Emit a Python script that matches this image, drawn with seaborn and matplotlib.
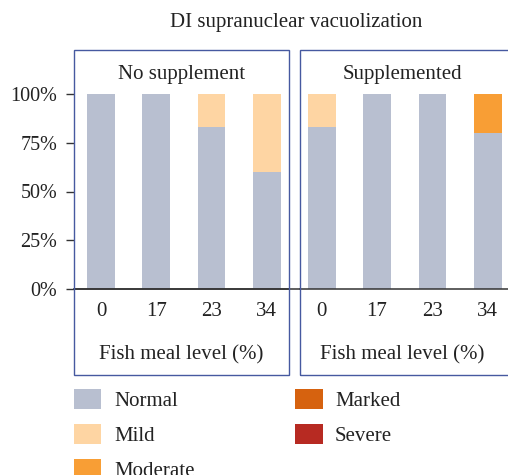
import numpy as np
import pandas as pd
import matplotlib
matplotlib.use("Agg")
import matplotlib.pyplot as plt
from matplotlib.patches import Patch, Rectangle
import seaborn as sns

# Data (percent of fish per severity class)
levels = ['0', '17', '23', '34']
severity = ['Normal', 'Mild', 'Moderate', 'Marked', 'Severe']
palette = ['#B8BFD0', '#FED5A3', '#F89E35', '#D6620F', '#B72A22']

no_supp_normal = [100, 100, 83.3, 60]
no_supp_mild = [0, 0, 16.7, 40]
no_supp_moderate = [0, 0, 0, 0]
no_supp_marked = [0, 0, 0, 0]
no_supp_severe = [0, 0, 0, 0]

supp_normal = [83.3, 100, 100, 80]
supp_mild = [16.7, 0, 0, 0]
supp_moderate = [0, 0, 0, 20]
supp_marked = [0, 0, 0, 0]
supp_severe = [0, 0, 0, 0]

panels = ['No supplement', 'Supplemented']
values = {
    'No supplement': [no_supp_normal, no_supp_mild, no_supp_moderate,
                      no_supp_marked, no_supp_severe],
    'Supplemented': [supp_normal, supp_mild, supp_moderate,
                     supp_marked, supp_severe],
}

rows = []
for panel in panels:
    for sev, vals in zip(severity, values[panel]):
        for lvl, v in zip(levels, vals):
            rows.append({'panel': panel, 'severity': sev, 'level': lvl, 'pct': v})
df = pd.DataFrame(rows)
df['severity'] = pd.Categorical(df['severity'], severity, ordered=True)
df = df.sort_values(['panel', 'level', 'severity'])
df['cum'] = df.groupby(['panel', 'level'])['pct'].cumsum()

sns.set_style("white")
plt.rcParams['font.family'] = ['Liberation Serif', 'DejaVu Serif']
fs = 15
text_col = '#222222'
box_col = '#4659A0'

W, H = 508, 475
fig = plt.figure(figsize=(W / 100, H / 100), dpi=100)

# pixel layout
box_top, box_bot = 50, 375
y0_px, y100_px = 289, 94
ppu = (y0_px - y100_px) / 100.0
ytop = (y0_px - box_top) / ppu

specs = [
    ('No supplement', 74, 289, 101, 55.3),
    ('Supplemented', 300, 520, 321.8, 55.3),
]

axes = []
for panel, xl, xr, first_px, step in specs:
    xr_ax = min(xr, W)
    ax = fig.add_axes([xl / W, 1 - y0_px / H, (xr_ax - xl) / W, (y0_px - box_top) / H])
    sub = df[df['panel'] == panel]
    for sev, col in reversed(list(zip(severity, palette))):
        s = sub[sub['severity'] == sev]
        sns.barplot(data=s, x='level', y='cum', order=levels, color=col,
                    width=0.5, linewidth=0, saturation=1, ax=ax, errorbar=None)
    ax.set_xlim(-(first_px - xl) / step, (xr_ax - first_px) / step)
    ax.set_ylim(0, ytop)
    ax.set_xlabel('')
    ax.set_ylabel('')
    for side in ['left', 'top', 'right']:
        ax.spines[side].set_visible(False)
    ax.spines['bottom'].set_color('#333333')
    ax.spines['bottom'].set_linewidth(1.1)
    ax.tick_params(axis='x', length=0, pad=9, labelsize=fs, labelcolor=text_col)
    ax.text(1.45, (y0_px - 74) / (y0_px - box_top), panel,
            transform=ax.get_xaxis_transform(), ha='center', va='center',
            fontsize=fs, color=text_col)
    ax.text(1.45, (y0_px - 355) / (y0_px - box_top), 'Fish meal level (%)',
            transform=ax.get_xaxis_transform(), ha='center', va='center',
            fontsize=fs, color=text_col)
    # panel frame
    fig.patches.append(Rectangle((xl / W, 1 - box_bot / H), (xr - xl) / W,
                                 (box_bot - box_top) / H, transform=fig.transFigure,
                                 fill=False, edgecolor=box_col, linewidth=1.0,
                                 zorder=10))
    axes.append(ax)

ax_l, ax_r = axes
ax_r.set_yticks([])

ax_l.set_yticks([0, 25, 50, 75, 100])
ax_l.set_yticklabels(['0%', '25%', '50%', '75%', '100%'])
ax_l.tick_params(axis='y', direction='out', length=6, width=1, color='#333333',
                 pad=6, labelsize=14.5, labelcolor=text_col, left=True)

# baseline continues across the gap between panels
ax_l.axhline(0, color='#333333', lw=1.1, xmin=0, xmax=(300 - 74) / 215,
             clip_on=False, zorder=5)

fig.text(296 / W, 1 - 22 / H, 'DI supranuclear vacuolization', ha='center',
         va='center', fontsize=fs, color=text_col)

handles = [Patch(facecolor=c, edgecolor='none') for c in palette]
fig.legend(handles, severity, ncol=2, loc='upper left',
           bbox_to_anchor=(66 / W, 1 - 381 / H), frameon=False,
           handlelength=1.3, handleheight=1.1, handletextpad=0.6,
           columnspacing=4.85, labelspacing=0.6, fontsize=fs,
           labelcolor=text_col, borderaxespad=0)

fig.savefig('out.png', dpi=100)
